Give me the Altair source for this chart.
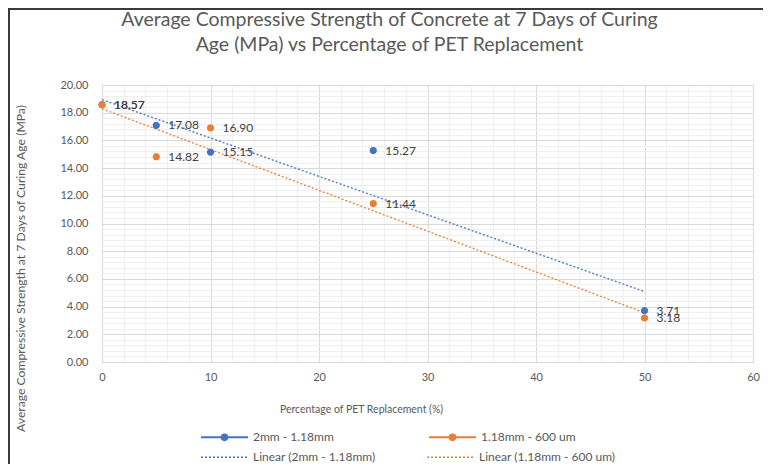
import altair as alt
import pandas as pd

# ---- data ----
pet_pct = [0, 5, 10, 25, 50]
series_a = "2mm - 1.18mm"
series_b = "1.18mm - 600 um"
strength_a = [18.57, 17.08, 15.15, 15.27, 3.71]
strength_b = [18.57, 14.82, 16.90, 11.44, 3.18]
trend_a = "Linear (2mm - 1.18mm)"
trend_b = "Linear (1.18mm - 600 um)"
series_names = [series_a, series_b]
trend_names = [trend_a, trend_b]

x_major = [0, 10, 20, 30, 40, 50, 60]
y_major = [0, 2, 4, 6, 8, 10, 12, 14, 16, 18, 20]
x_grid = [v / 10 for v in range(0, 601, 20)]      # minor grid every 2
y_grid = [v / 10 for v in range(0, 201, 4)]       # minor grid every 0.4

title_lines = ["Average Compressive Strength of Concrete at 7 Days of Curing",
               "Age (MPa) vs Percentage of PET Replacement"]
x_title = "Percentage of PET Replacement (%)"
y_title = "Average Compressive Strength at 7 Days of Curing Age (MPa)"

BLUE = "#4472C4"
ORANGE = "#ED7D31"
TXT = "#595959"
FONT = "Lato"

rows = []
for p, s in zip(pet_pct, strength_a):
    rows.append({"pet": p, "strength": s, "series": series_a, "trend": trend_a})
for p, s in zip(pet_pct, strength_b):
    rows.append({"pet": p, "strength": s, "series": series_b, "trend": trend_b})
df = pd.DataFrame(rows)

series_scale = alt.Scale(domain=series_names, range=[BLUE, ORANGE])
trend_scale = alt.Scale(domain=trend_names, range=[BLUE, ORANGE])

# legend symbol: line with a round marker in the middle
marker_path = "M-1,0H1M0.12,0A0.12,0.12,0,1,1,-0.12,0A0.12,0.12,0,1,1,0.12,0Z"

x_scale = alt.Scale(domain=[0, 60], nice=False, zero=False)
y_scale = alt.Scale(domain=[0, 20], nice=False, zero=False)

x_axis = alt.Axis(
    values=x_grid,
    labelExpr="datum.value % 10 === 0 ? datum.label : ''",
    gridColor=alt.condition("datum.value % 10 === 0", alt.value("#D9D9D9"), alt.value("#EFEFEF")),
    ticks=False, domainColor="#D9D9D9", labelColor=TXT, labelFontSize=11, labelFont=FONT,
    labelFlush=False, labelOverlap=False, labelPadding=9,
    title=x_title, titleColor=TXT, titleFontSize=10.5, titleFont=FONT, titleFontWeight="normal",
    titleX=259, titleY=47, titleAlign="center", titleBaseline="middle",
)
y_axis = alt.Axis(
    values=y_grid, format=".2f",
    labelExpr="abs(datum.value / 2 - round(datum.value / 2)) < 0.001 ? datum.label : ''",
    gridColor=alt.condition("abs(datum.value / 2 - round(datum.value / 2)) < 0.001",
                            alt.value("#D9D9D9"), alt.value("#EFEFEF")),
    ticks=False, domain=False, labelColor=TXT, labelFontSize=11, labelFont=FONT,
    labelFlush=False, labelOverlap=False, labelPadding=14,
    title=y_title, titleColor=TXT, titleFontSize=12.2, titleFont=FONT, titleFontWeight="normal",
    titleX=-82, titleY=183, titleAlign="center", titleBaseline="middle", titleAngle=270,
)

common = dict(
    x=alt.X("pet:Q", scale=x_scale, axis=x_axis),
    y=alt.Y("strength:Q", scale=y_scale, axis=y_axis),
)

base = alt.Chart(df)

trend_legend = alt.Legend(
    title=None, orient="none", legendX=98, legendY=347.5, direction="horizontal",
    symbolType="stroke", symbolSize=2209, symbolDash=[2, 2], symbolStrokeWidth=1.3,
    labelOffset=4, columnPadding=48, padding=0, labelFont=FONT, labelFontSize=12,
    labelColor=TXT, labelLimit=300,
)
trend = base.transform_regression(
    "pet", "strength", groupby=["trend"], extent=[0, 50]
).mark_line(strokeDash=[2, 2], strokeWidth=1.3).encode(
    color=alt.Color("trend:N", scale=trend_scale, legend=trend_legend),
    **common,
)

series_legend = alt.Legend(
    title=None, orient="none", legendX=98, legendY=327.5, direction="horizontal",
    symbolType=marker_path, symbolSize=2209, symbolStrokeWidth=2, symbolOpacity=1,
    labelOffset=4, columnPadding=91, padding=0, labelFont=FONT, labelFontSize=12,
    labelColor=TXT, labelLimit=300,
)
points = base.mark_circle(size=40, opacity=1, strokeWidth=1).encode(
    fill=alt.Fill("series:N", scale=series_scale, legend=series_legend),
    stroke=alt.Stroke("series:N", scale=series_scale, legend=series_legend),
    **common,
)

labels = base.mark_text(align="left", baseline="middle", dx=12, fontSize=12,
                        font=FONT, color="#404040").encode(
    text=alt.Text("strength:Q", format=".2f"),
    **common,
)

# outer frame (dark left/top edge of the screenshot)
frame_left = alt.Chart(pd.DataFrame({"k": [0]})).mark_rule(color="#3A3A3A", strokeWidth=2).encode(
    x=alt.value(-93), y=alt.value(-77), y2=alt.value(380))
frame_top = alt.Chart(pd.DataFrame({"k": [0]})).mark_rule(color="#3A3A3A", strokeWidth=2).encode(
    x=alt.value(-94), x2=alt.value(662), y=alt.value(-76))

chart = alt.layer(trend, points, labels, frame_left, frame_top).properties(
    width=651, height=277,
    title=alt.TitleParams(title_lines, fontSize=19.5, font=FONT, color=TXT, fontWeight="normal",
                          anchor="middle", dx=-38, offset=26, dy=74, lineHeight=25),
    autosize=alt.AutoSizeParams(type="none"),
    padding={"left": 94, "top": 77, "right": 10, "bottom": 102},
).configure_view(stroke=None).configure(background="white")

chart.save("out.html", embed_options={"renderer": "svg", "actions": False})
